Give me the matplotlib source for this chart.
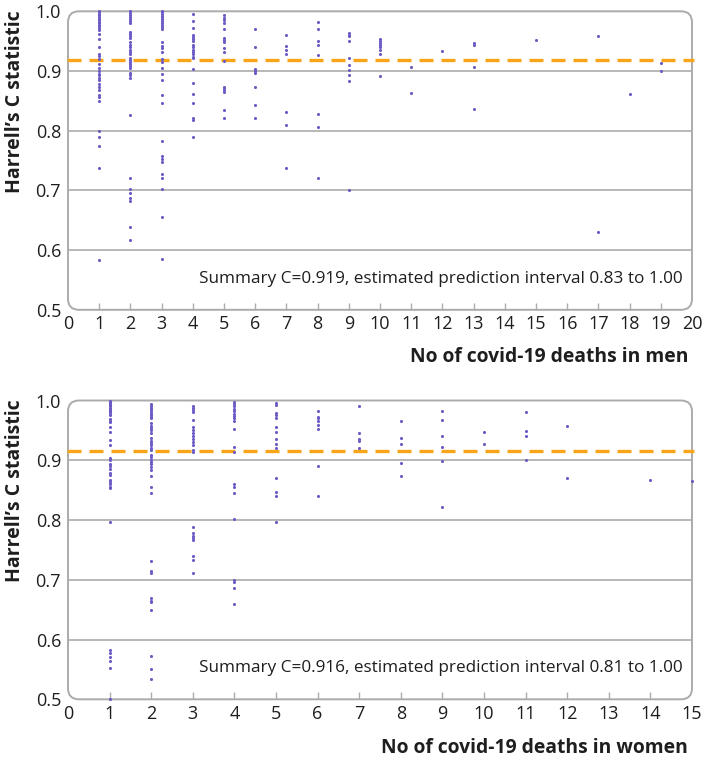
import matplotlib
matplotlib.use("Agg")
import matplotlib.pyplot as plt
from matplotlib.patches import FancyBboxPatch

plt.rcParams['font.family'] = ['Open Sans', 'Lato', 'DejaVu Sans']

# ---------------- data: men ----------------
m1 = [1.0, 0.998, 0.995, 0.993, 0.99, 0.987, 0.985, 0.982, 0.98, 0.977, 0.975, 0.972, 0.968,
      0.962, 0.953, 0.94, 0.928, 0.925, 0.92, 0.912, 0.905, 0.9, 0.895, 0.893, 0.888, 0.885,
      0.878, 0.873, 0.868, 0.86, 0.856, 0.85, 0.8, 0.79, 0.775, 0.737, 0.583]
m2 = [1.0, 0.997, 0.993, 0.99, 0.987, 0.983, 0.98, 0.965, 0.962, 0.958, 0.955, 0.948, 0.944,
      0.94, 0.936, 0.932, 0.928, 0.922, 0.918, 0.915, 0.912, 0.908, 0.905, 0.897, 0.893, 0.889,
      0.827, 0.72, 0.703, 0.695, 0.688, 0.683, 0.638, 0.617]
m3 = [1.0, 0.998, 0.995, 0.992, 0.99, 0.987, 0.983, 0.98, 0.977, 0.973, 0.97, 0.948, 0.942,
      0.938, 0.932, 0.92, 0.915, 0.905, 0.895, 0.885, 0.86, 0.847, 0.782, 0.757, 0.752, 0.747,
      0.727, 0.72, 0.703, 0.655, 0.585]
m4 = [0.996, 0.983, 0.972, 0.96, 0.957, 0.954, 0.95, 0.943, 0.94, 0.935, 0.932, 0.928, 0.924,
      0.921, 0.903, 0.88, 0.862, 0.847, 0.821, 0.818, 0.79]
m5 = [0.993, 0.989, 0.985, 0.981, 0.97, 0.955, 0.952, 0.949, 0.939, 0.932, 0.916, 0.874, 0.871,
      0.868, 0.864, 0.835, 0.822]
m6 = [0.971, 0.94, 0.903, 0.9, 0.896, 0.874, 0.843, 0.822]
m7 = [0.961, 0.942, 0.936, 0.928, 0.831, 0.81, 0.737]
m8 = [0.982, 0.97, 0.95, 0.944, 0.926, 0.828, 0.806, 0.72]
m9 = [0.964, 0.961, 0.958, 0.95, 0.922, 0.91, 0.902, 0.893, 0.883, 0.70]
m10 = [0.953, 0.95, 0.947, 0.944, 0.94, 0.936, 0.928, 0.891]
m11 = [0.906, 0.863]
m12 = [0.934]
m13 = [0.947, 0.944, 0.906, 0.837]
m15 = [0.952]
m17 = [0.958, 0.63]
m18 = [0.862]
m19 = [0.913, 0.90]
men_groups = {1: m1, 2: m2, 3: m3, 4: m4, 5: m5, 6: m6, 7: m7, 8: m8, 9: m9, 10: m10,
              11: m11, 12: m12, 13: m13, 15: m15, 17: m17, 18: m18, 19: m19}
men_summary = 0.919
men_text = "Summary C=0.919, estimated prediction interval 0.83 to 1.00"
men_xticks = list(range(0, 21))

# ---------------- data: women ----------------
w1 = [1.0, 0.998, 0.996, 0.994, 0.992, 0.99, 0.988, 0.986, 0.984, 0.982, 0.98, 0.978, 0.976,
      0.969, 0.966, 0.964, 0.956, 0.948, 0.934, 0.926, 0.904, 0.9, 0.894, 0.89, 0.885, 0.879,
      0.875, 0.867, 0.863, 0.86, 0.856, 0.853, 0.796, 0.583, 0.577, 0.571, 0.564, 0.553, 0.5]
w2 = [0.994, 0.991, 0.988, 0.985, 0.982, 0.979, 0.976, 0.973, 0.971, 0.962, 0.958, 0.954, 0.95,
      0.946, 0.937, 0.933, 0.929, 0.925, 0.921, 0.917, 0.909, 0.905, 0.901, 0.897, 0.893, 0.889,
      0.884, 0.874, 0.856, 0.846, 0.732, 0.715, 0.711, 0.669, 0.665, 0.662, 0.649, 0.573, 0.551,
      0.534]
w3 = [0.991, 0.988, 0.984, 0.981, 0.967, 0.956, 0.951, 0.946, 0.941, 0.936, 0.931, 0.926, 0.917,
      0.914, 0.789, 0.778, 0.774, 0.77, 0.766, 0.74, 0.733, 0.711]
w4 = [0.998, 0.994, 0.99, 0.986, 0.982, 0.978, 0.974, 0.97, 0.965, 0.953, 0.922, 0.914, 0.86,
      0.856, 0.845, 0.801, 0.7, 0.697, 0.686, 0.66]
w5 = [0.995, 0.993, 0.979, 0.975, 0.971, 0.956, 0.948, 0.935, 0.928, 0.921, 0.87, 0.847, 0.841,
      0.797]
w6 = [0.982, 0.973, 0.97, 0.966, 0.959, 0.952, 0.891, 0.841]
w7 = [0.99, 0.945, 0.936, 0.932, 0.92]
w8 = [0.966, 0.937, 0.928, 0.895, 0.874]
w9 = [0.983, 0.967, 0.941, 0.922, 0.898, 0.822]
w10 = [0.947, 0.927]
w11 = [0.981, 0.949, 0.94, 0.9]
w12 = [0.957, 0.87]
w14 = [0.867]
w15 = [0.866]
women_groups = {1: w1, 2: w2, 3: w3, 4: w4, 5: w5, 6: w6, 7: w7, 8: w8, 9: w9, 10: w10,
                11: w11, 12: w12, 14: w14, 15: w15}
women_summary = 0.916
women_text = "Summary C=0.916, estimated prediction interval 0.81 to 1.00"
women_xticks = list(range(0, 16))

y_ticks = [0.5, 0.6, 0.7, 0.8, 0.9, 1.0]
y_labels = ["0.5", "0.6", "0.7", "0.8", "0.9", "1.0"]

# ---------------- style ----------------
DOT = '#6a5cc4'
ORANGE = '#f9a51a'
GRID = '#ababab'
TXT = '#1e1e1e'

W, H = 705, 761
fig = plt.figure(figsize=(W / 100, H / 100), dpi=100)

left_px, right_px = 68, 692
panels = [
    (men_groups, men_summary, men_text, men_xticks, "No of covid-19 deaths in men", 11.3, 309.8, 357),
    (women_groups, women_summary, women_text, women_xticks, "No of covid-19 deaths in women", 400.5, 699.3, 748),
]

for groups, summ, stext, xticks, xlab, top_px, bot_px, xlab_px in panels:
    ax = fig.add_axes([left_px / W, 1 - bot_px / H, (right_px - left_px) / W, (bot_px - top_px) / H])
    wpx = right_px - left_px
    hpx = bot_px - top_px
    ax.set_xlim(xticks[0], xticks[-1])
    ax.set_ylim(0.5, 1.0)
    for s in ax.spines.values():
        s.set_visible(False)

    # rounded frame
    r = 11 / wpx
    box = FancyBboxPatch((0, 0), 1, 1, boxstyle=f"round,pad=0,rounding_size={r}",
                         mutation_aspect=wpx / hpx, transform=ax.transAxes,
                         facecolor='none', edgecolor=GRID, linewidth=1.4, zorder=1, clip_on=False)
    ax.add_patch(box)

    # grid lines
    for yv in y_ticks[1:-1]:
        ax.axhline(yv, color=GRID, linewidth=1.2, zorder=1)

    # points
    for xv, vals in groups.items():
        ax.scatter([xv] * len(vals), vals, s=5, color=DOT, linewidths=0, zorder=3, clip_on=False)

    # summary dashed line
    ax.axhline(summ, color=ORANGE, linewidth=2.4, dashes=(4.2, 2.4), zorder=2, clip_on=False,
               xmin=-0.002, xmax=1.004)

    ax.text(1 - 9 / wpx, 31 / hpx, stext, transform=ax.transAxes, ha='right', va='center',
            fontsize=12.3, color=TXT)

    ax.set_xticks(xticks)
    ax.set_xticklabels([str(v) for v in xticks])
    ax.set_yticks(y_ticks)
    ax.set_yticklabels(y_labels)
    ax.tick_params(axis='x', direction='in', length=5, width=1.0, color=GRID, pad=4,
                   labelsize=13, labelcolor=TXT)
    ax.tick_params(axis='y', length=0, pad=5, labelsize=13, labelcolor=TXT)
    ticks = ax.xaxis.get_major_ticks()
    ticks[0].tick1line.set_visible(False)
    ticks[-1].tick1line.set_visible(False)

    ax.text(1 - 4 / wpx, -(xlab_px - bot_px) / hpx, xlab, transform=ax.transAxes,
            ha='right', va='center', fontsize=13.9, fontweight='bold', color=TXT)
    ax.text(-(68 - 15) / wpx, 1 + 1 / hpx, "Harrell\u2019s C statistic",
            transform=ax.transAxes, rotation=90, ha='center', va='top',
            fontsize=14, fontweight='bold', color=TXT)

fig.savefig("out.png", dpi=100)
